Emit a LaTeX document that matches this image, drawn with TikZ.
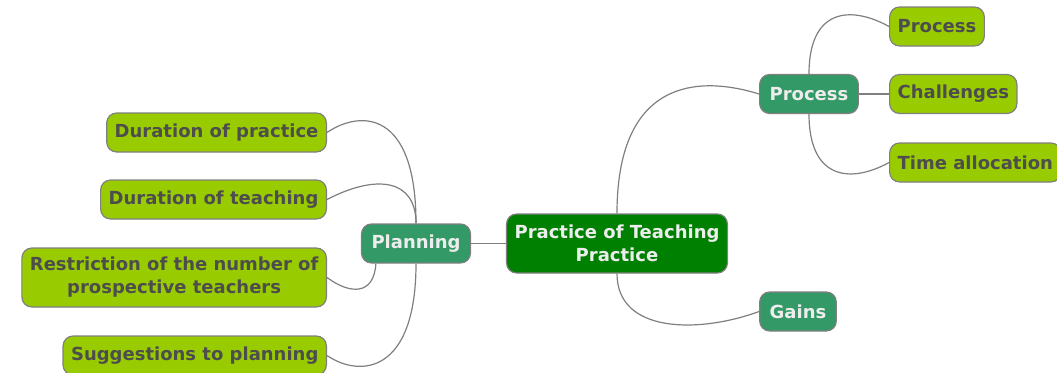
\documentclass[tikz,border=0pt]{standalone}
\usepackage{fontspec}
\setmainfont{DejaVu Sans}
\definecolor{rootgreen}{HTML}{008000}
\definecolor{midgreen}{HTML}{339966}
\definecolor{leafgreen}{HTML}{99CC00}
\definecolor{leaftext}{HTML}{4D4D4D}
\definecolor{edgegray}{HTML}{7F7F7F}
\begin{document}
\begin{tikzpicture}[x=1pt,y=-1pt,
  topic/.style={draw=edgegray, line width=1.2pt, rounded corners=10pt, minimum height=39pt, inner xsep=8pt, font=\bfseries\fontsize{18}{23}\selectfont},
  central/.style={topic, fill=rootgreen, text=white!93!black, align=center, minimum height=59pt},
  branch/.style={topic, fill=midgreen, text=white!93!black, inner xsep=10pt},
  leaf/.style={topic, fill=leafgreen, text=leaftext},
  link/.style={draw=edgegray, line width=1.2pt}]
\useasboundingbox (0,0) rectangle (1057,372);
\node[central] (root) at (617,243.5) {Practice of Teaching\\Practice};
\node[branch] (planning) at (416,243.5) {Planning};
\node[branch] (process) at (809,94) {Process};
\node[branch] (gains) at (798,311.5) {Gains};

\node[leaf, anchor=east] (practice) at (327,132.5) {Duration of practice};
\node[leaf, anchor=east] (teaching) at (327,199.5) {Duration of teaching};
\node[leaf, anchor=east, align=center, minimum height=59pt] (restriction) at (327,277.5) {Restriction of the number of\\prospective teachers};
\node[leaf, anchor=east] (suggestions) at (327,355.5) {Suggestions to planning};
\node[leaf, anchor=west] (subprocess) at (889,26.5) {Process};
\node[leaf, anchor=west] (challenges) at (889,94) {Challenges};
\node[leaf, anchor=west] (allocation) at (889,162.5) {Time allocation};

\draw[link] (root.west) -- (planning.east);
\draw[link] (root.north) .. controls +(0,-134) and +(-61,-19) .. (process.west);
\draw[link] (root.south) .. controls +(0,60) and +(-60,22) .. (gains.west);
\draw[link] (process.north) .. controls +(0,-65) and +(-39,-21.5) .. (subprocess.west);
\draw[link] (process.east) -- (challenges.west);
\draw[link] (process.south) .. controls +(0,65) and +(-39,21.5) .. (allocation.west);
\draw[link] (planning.north) .. controls +(0,-114) and +(33,-22.5) .. (practice.east);
\draw[link] (planning.north) .. controls +(0,-44) and +(50,-26) .. (teaching.east);
\draw[link] ([xshift=15pt]planning.south west) .. controls +(-2,32) and +(23,17) .. (restriction.east);
\draw[link] (planning.south) .. controls +(0,110) and +(33,22.5) .. (suggestions.east);
\end{tikzpicture}
\end{document}
